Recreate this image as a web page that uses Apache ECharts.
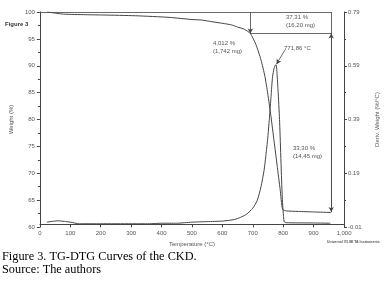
<!DOCTYPE html>
<html>
<head>
<meta charset="utf-8">
<script src="https://cdn.jsdelivr.net/npm/echarts@6/dist/echarts.min.js"></script>
<style>
  html, body { margin: 0; padding: 0; background: #fff; }
  #echart { width: 389px; height: 284px; }
</style>
</head>
<body>
<div id="echart"></div>
<script>
// TG curve: temperature (°C) vs weight (%)
const tgTemp = [23, 50, 78, 150, 208, 315, 425, 500, 532, 565, 600, 630, 650, 672, 692, 710, 727, 740, 749, 760, 770, 780, 790, 798, 810, 850, 900, 958];
const tgWeight = [100, 99.8, 99.6, 99.5, 99.44, 99.3, 99.0, 98.6, 98.5, 98.2, 97.9, 97.6, 97.2, 96.8, 96.0, 94.0, 91.1, 88.0, 84.9, 80.5, 76.0, 71.5, 67.0, 63.3, 63.0, 62.9, 62.8, 62.7];

// DTG curve: temperature (°C) vs deriv. weight (%/°C)
const dtgTemp = [23, 40, 60, 80, 100, 130, 200, 300, 360, 400, 450, 500, 550, 600, 640, 660, 680, 700, 715, 727, 737, 744, 750, 755, 760, 765, 770, 774, 777, 783, 788, 797, 803, 810, 900, 955];
const dtgValue = [0.008, 0.011, 0.013, 0.011, 0.008, 0.002, 0.002, 0.002, 0.002, 0.004, 0.004, 0.008, 0.010, 0.012, 0.018, 0.026, 0.038, 0.06, 0.09, 0.14, 0.20, 0.265, 0.33, 0.40, 0.475, 0.549, 0.58, 0.592, 0.593, 0.50, 0.39, 0.10, 0.01, 0.006, 0.005, 0.004];

// annotation brackets (temperature, weight)
const stepTemp = 692;
const endTemp = 958;
const startWeight = 100;
const stepWeight = 96.0;
const endWeight = 62.8;
const peakTemp = 777;
const peakValue = 0.593;

const INK = "#444";
const TXT = "#555";
const SANS = "Liberation Sans, Arial, sans-serif";

function pairs(xs, ys) {
  return xs.map((x, i) => [x, ys[i]]);
}

function seg(a, b, arrow) {
  return [
    { coord: a, symbol: "none" },
    { coord: b, symbol: arrow ? "arrow" : "none" },
  ];
}

const chart = echarts.init(document.getElementById("echart"), null, { renderer: "canvas" });

const axisCommon = {
  axisLine: { show: true, lineStyle: { color: INK, width: 1 } },
  axisTick: { show: true, inside: false, length: 3, lineStyle: { color: INK } },
  splitLine: { show: false },
  axisLabel: { fontSize: 6, color: TXT, fontFamily: SANS },
  nameTextStyle: { fontSize: 6, color: TXT, fontFamily: SANS },
};

const option = {
  animation: false,
  backgroundColor: "#fff",
  grid: { left: 36, right: 45, top: 12, bottom: 57 },
  xAxis: {
    ...axisCommon,
    type: "value",
    min: 0,
    max: 1000,
    interval: 100,
    name: "Temperature (°C)",
    nameLocation: "middle",
    nameGap: 12,
    axisLabel: { ...axisCommon.axisLabel, margin: 3 },
  },
  yAxis: [
    {
      ...axisCommon,
      type: "value",
      position: "left",
      min: 60,
      max: 100,
      interval: 5,
      minorTick: { show: true, splitNumber: 2, length: 2, lineStyle: { color: INK } },
      name: "Weight (%)",
      nameLocation: "middle",
      nameRotate: 90,
      nameGap: 22,
      axisLabel: { ...axisCommon.axisLabel, margin: 5 },
    },
    {
      ...axisCommon,
      type: "value",
      position: "right",
      min: -0.01,
      max: 0.79,
      interval: 0.2,
      minorTick: { show: true, splitNumber: 2, length: 2, lineStyle: { color: INK } },
      name: "Deriv. Weight (%/°C)",
      nameLocation: "middle",
      nameRotate: 90,
      nameGap: 30,
      axisLabel: { ...axisCommon.axisLabel, margin: 4 },
    },
  ],
  series: [
    {
      name: "TG",
      type: "line",
      yAxisIndex: 0,
      data: pairs(tgTemp, tgWeight),
      showSymbol: false,
      smooth: 0.2,
      lineStyle: { color: INK, width: 1 },
      markLine: {
        silent: true,
        symbolSize: [4, 5],
        label: { show: false },
        lineStyle: { color: INK, width: 0.8, type: "solid" },
        data: [
          seg([0, startWeight], [endTemp, startWeight], false),
          seg([stepTemp, startWeight], [stepTemp, stepWeight], true),
          seg([stepTemp, stepWeight], [endTemp, stepWeight], false),
          seg([endTemp, startWeight], [endTemp, endWeight], true),
          seg([endTemp, endWeight], [endTemp, stepWeight], true),
        ],
      },
    },
    {
      name: "DTG",
      type: "line",
      yAxisIndex: 1,
      data: pairs(dtgTemp, dtgValue),
      showSymbol: false,
      smooth: 0.2,
      lineStyle: { color: INK, width: 1 },
      markLine: {
        silent: true,
        symbolSize: [4, 5],
        label: { show: false },
        lineStyle: { color: INK, width: 0.8, type: "solid" },
        data: [seg([806, 0.649], [peakTemp + 1, peakValue + 0.003], true)],
      },
    },
  ],
  graphic: [
    { type: "text", x: 5, y: 21, style: { text: "Figure 3", font: "bold 6px " + SANS, fill: "#333" } },
    { type: "text", x: 213, y: 40, style: { text: "4,012 %\n(1,742 mg)", font: "6px " + SANS, fill: TXT, lineHeight: 7.5 } },
    { type: "text", x: 286, y: 13, style: { text: "37,31 %\n(16,20 mg)", font: "6px " + SANS, fill: TXT, lineHeight: 8 } },
    { type: "text", x: 284, y: 45.5, style: { text: "771,86 °C", font: "6px " + SANS, fill: TXT } },
    { type: "text", x: 293, y: 145, style: { text: "33,30 %\n(14,45 mg)", font: "6px " + SANS, fill: TXT, lineHeight: 7.5 } },
    { type: "text", x: 327, y: 240.5, style: { text: "Universal V3.9E TA Instruments", font: "bold 3.5px " + SANS, fill: "#555" } },
    { type: "text", x: 2, y: 250.5, style: { text: "Figure 3. TG-DTG Curves of the CKD.\nSource: The authors", font: "12.3px Liberation Serif, Times New Roman, serif", fill: "#000", lineHeight: 13 } },
  ],
};

chart.setOption(option);
window.addEventListener("resize", () => chart.resize());
</script>
</body>
</html>
